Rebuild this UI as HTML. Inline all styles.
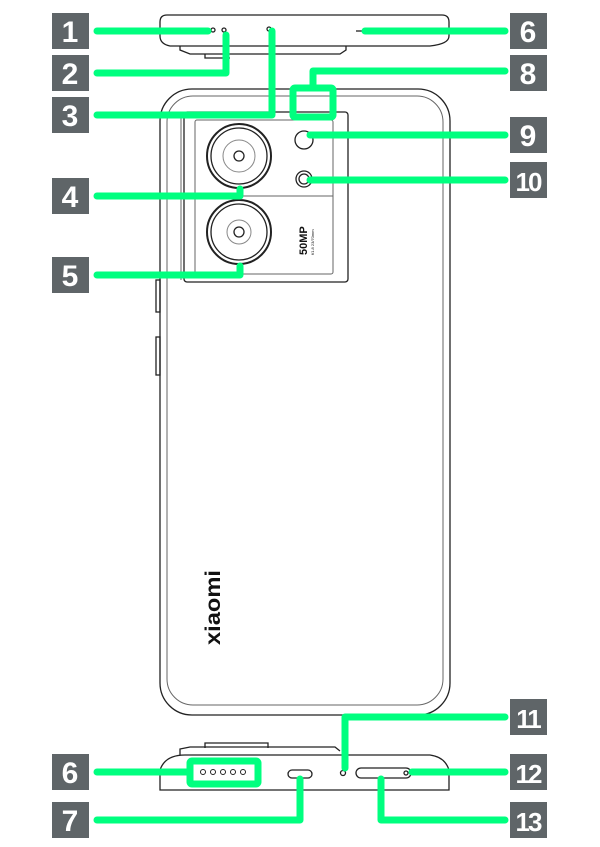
<!DOCTYPE html>
<html><head><meta charset="utf-8"><style>
html,body{margin:0;padding:0;background:#fff;}
svg{display:block}
</style></head><body>
<svg width="600" height="847" viewBox="0 0 600 847" xmlns="http://www.w3.org/2000/svg" font-family="Liberation Sans, sans-serif">
<g fill="none" stroke="#222" stroke-width="1.3">
<path d="M160 22 Q160 15 167 15 L442 15 Q449 15 449 22 L449 36 Q449 44 430 46 L170 46 Q160 44 160 36 Z"/>
<path d="M180 46 L180 50 L190 54 L340 54 L346 50 L346 46"/>
<path d="M205 54 L205 58 L230 58"/>
<circle cx="213" cy="30" r="2"/>
<circle cx="224" cy="30" r="2"/>
<circle cx="269" cy="29" r="2"/>
<line x1="356" y1="31" x2="366" y2="31"/>
<rect x="160" y="89" width="290" height="626" rx="32"/>
<rect x="167" y="96" width="276" height="609" rx="26" stroke="#666" stroke-width="1"/>
<rect x="156" y="280" width="4" height="32"/>
<rect x="156" y="337" width="4" height="38"/>
<line x1="181" y1="115" x2="181" y2="280" stroke="#666" stroke-width="1"/>
<rect x="184" y="112" width="164" height="170" rx="3"/>
<rect x="195" y="120" width="138" height="154" rx="2" stroke="#666" stroke-width="1"/>
<line x1="195" y1="196" x2="333" y2="196" stroke="#666" stroke-width="1"/>
<circle cx="239" cy="156" r="32" stroke-width="2"/>
<circle cx="239" cy="156" r="28"/>
<circle cx="239" cy="156" r="16" stroke="#888" stroke-width="1"/>
<circle cx="239" cy="156" r="5"/>
<circle cx="239" cy="232" r="32" stroke-width="2"/>
<circle cx="239" cy="232" r="28"/>
<circle cx="239" cy="232" r="12" stroke="#888" stroke-width="1"/>
<circle cx="239" cy="232" r="5"/>
<circle cx="304" cy="140" r="9"/>
<circle cx="304" cy="179" r="8"/>
<circle cx="304" cy="179" r="5"/>
<path d="M205 748 L205 743 L268 743 L268 748"/>
<path d="M180 755 L180 749 L190 747 L335 747 L340 751"/>
<path d="M160 790 L160 770 Q165 755 185 755 L430 755 Q445 757 449 770 L449 790 Z"/>
<rect x="288" y="770" width="24" height="8" rx="4"/>
<circle cx="343" cy="773" r="2.5"/>
<rect x="356" y="768" width="55" height="10" rx="5"/>
<circle cx="406" cy="773" r="2"/>
<g stroke-width="1"><circle cx="203" cy="772" r="2.5"/><circle cx="213" cy="772" r="2.5"/><circle cx="223" cy="772" r="2.5"/><circle cx="233" cy="772" r="2.5"/><circle cx="243" cy="772" r="2.5"/></g>
</g>
<text transform="translate(220 645) rotate(-90)" font-size="21" font-weight="bold" fill="#111" textLength="75" lengthAdjust="spacingAndGlyphs">xiaomi</text>
<text transform="translate(307 255) rotate(-90)" font-size="11" font-weight="bold" fill="#111">50MP</text>
<text transform="translate(314 255) rotate(-90)" font-size="4" fill="#111">f/1.8 23/70mm</text>
<g fill="none" stroke="#00ff7f" stroke-width="7" stroke-linecap="round" stroke-linejoin="round">
<path d="M97 31 H208"/>
<path d="M97 73 H226 V35"/>
<path d="M97 115 H272 V31"/>
<path d="M97 196 H240 V189"/>
<path d="M97 275 H240 V266"/>
<path d="M365 31 H505"/>
<path d="M313 86 V71 H505"/>
<rect x="293" y="88" width="40" height="29" rx="2"/>
<path d="M310 135 H505"/>
<path d="M310 180 H505"/>
<path d="M345 768 V717 H505"/>
<path d="M412 772 H505"/>
<path d="M97 772 H188"/>
<rect x="190" y="761" width="68" height="23" rx="2"/>
<path d="M97 820 H300 V779"/>
<path d="M381 779 V820 H505"/>
</g>
<g font-size="30" font-weight="bold" fill="#fff" text-anchor="middle">
<g fill="#5f6568">
<rect x="52" y="13" width="37" height="36"/><rect x="52" y="55" width="37" height="36"/><rect x="52" y="97" width="37" height="36"/>
<rect x="52" y="178" width="37" height="36"/><rect x="52" y="257" width="37" height="36"/>
<rect x="510" y="13" width="37" height="36"/><rect x="510" y="55" width="37" height="36"/><rect x="510" y="117" width="37" height="36"/>
<rect x="510" y="162" width="37" height="36"/><rect x="510" y="699" width="37" height="36"/><rect x="510" y="754" width="37" height="36"/>
<rect x="52" y="754" width="37" height="36"/><rect x="52" y="802" width="37" height="36"/><rect x="510" y="802" width="37" height="36"/>
</g>
<text x="70" y="42">1</text><text x="70" y="84">2</text><text x="70" y="126">3</text>
<text x="70" y="207">4</text><text x="70" y="286">5</text>
<text x="528" y="42">6</text><text x="528" y="84">8</text><text x="528" y="146">9</text>
<text x="528" y="191" font-size="26" letter-spacing="-2">10</text><text x="528" y="728" font-size="26" letter-spacing="-2">11</text><text x="528" y="783" font-size="26" letter-spacing="-2">12</text>
<text x="70" y="783">6</text><text x="70" y="831">7</text><text x="528" y="831" font-size="26" letter-spacing="-2">13</text>
</g>
</svg>
</body></html>
